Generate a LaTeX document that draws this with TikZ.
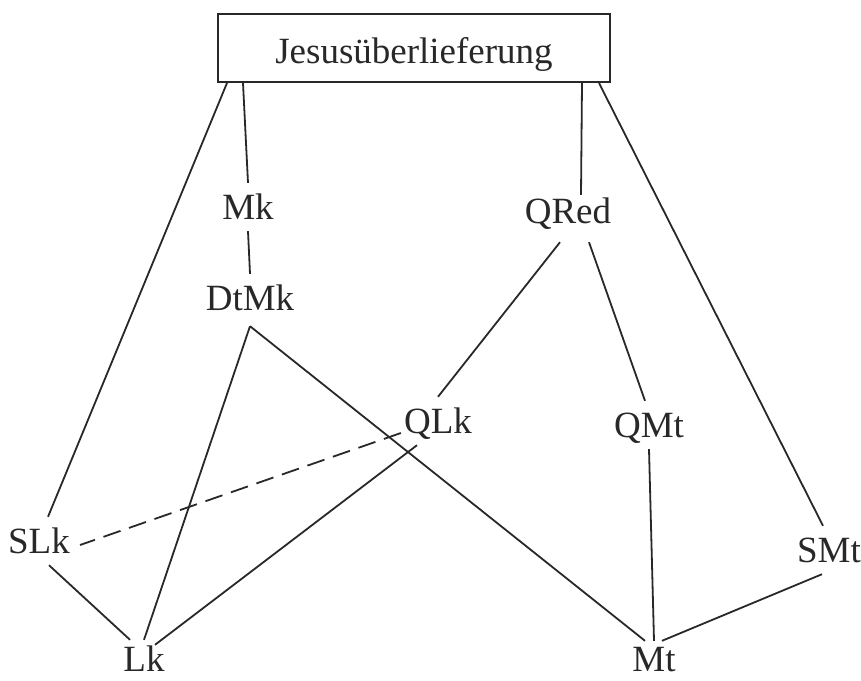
\documentclass[tikz,border=0pt]{standalone}
\usepackage{fontspec}
\setmainfont{Liberation Serif}
\definecolor{ink}{RGB}{40,40,40}
\begin{document}
\begin{tikzpicture}[x=1pt,y=-1pt,
  lbl/.style={anchor=base,inner xsep=4pt,inner ysep=12pt,text height=24pt,text depth=0pt,
    font=\fontsize{37}{40}\selectfont,text=ink},
  lowlbl/.style={lbl,inner ysep=3pt},
  edge/.style={draw=ink,line width=1.8pt},
  dashedge/.style={draw=ink,line width=1.8pt,dash pattern=on 18pt off 9pt}]
\useasboundingbox (0,0) rectangle (861,680);
\node[draw=ink,line width=2pt,minimum width=392pt,minimum height=68pt,inner sep=0pt,
  text height=30pt,text depth=0pt,font=\fontsize{37}{40}\selectfont,text=ink] (J) at (414,48) {Jesusüberlieferung};
\node[lbl] (Mk) at (248,219) {Mk};
\node[lbl] (DtMk) at (250,310) {DtMk};
\node[lbl] (QRed) at (568,223) {QRed};
\node[lbl] (QLk) at (438,433) {QLk};
\node[lbl] (QMt) at (649,437) {QMt};
\node[lbl] (SLk) at (39,553) {SLk};
\node[lbl] (SMt) at (829,562) {SMt};
\node[lowlbl] (Lk) at (144,671) {Lk};
\node[lowlbl] (Mt) at (654,671) {Mt};
\coordinate (j1) at ([xshift=10pt]J.south west);
\coordinate (j2) at ([xshift=26pt]J.south west);
\coordinate (j3) at ([xshift=-29pt]J.south east);
\coordinate (j4) at ([xshift=-12pt]J.south east);
\draw[edge] (j1) -- ([xshift=9pt]SLk.north);
\draw[edge] (j2) -- (Mk.north);
\draw[edge] (Mk.south) -- (DtMk.north);
\draw[edge] (j3) -- ([xshift=13pt,yshift=-8pt]QRed.north);
\draw[edge] (j4) -- ([xshift=-6pt]SMt.north);
\draw[edge] ([xshift=-8pt,yshift=-7pt]QRed.south) -- (QLk.north);
\draw[edge] ([xshift=21pt,yshift=-7pt]QRed.south) -- ([xshift=-4pt]QMt.north);
\draw[edge] (QMt.south) -- ([yshift=3pt]Mt.north);
\draw[edge] ([xshift=-7pt]SMt.south) -- ([xshift=8pt,yshift=3pt]Mt.north);
\draw[edge] ([yshift=-4pt]DtMk.south) -- ([xshift=-9pt,yshift=3pt]Mt.north);
\draw[edge] ([yshift=-4pt]DtMk.south) -- ([yshift=4pt]Lk.north);
\draw[edge] ([xshift=-21pt]QLk.south) -- ([xshift=11pt,yshift=-1pt]Lk.north);
\draw[edge] ([xshift=10pt]SLk.south) -- ([xshift=-14pt,yshift=4pt]Lk.north);
\draw[dashedge] ([xshift=1pt]QLk.base west) -- ([xshift=6pt,yshift=8pt]SLk.base east);
\end{tikzpicture}
\end{document}
